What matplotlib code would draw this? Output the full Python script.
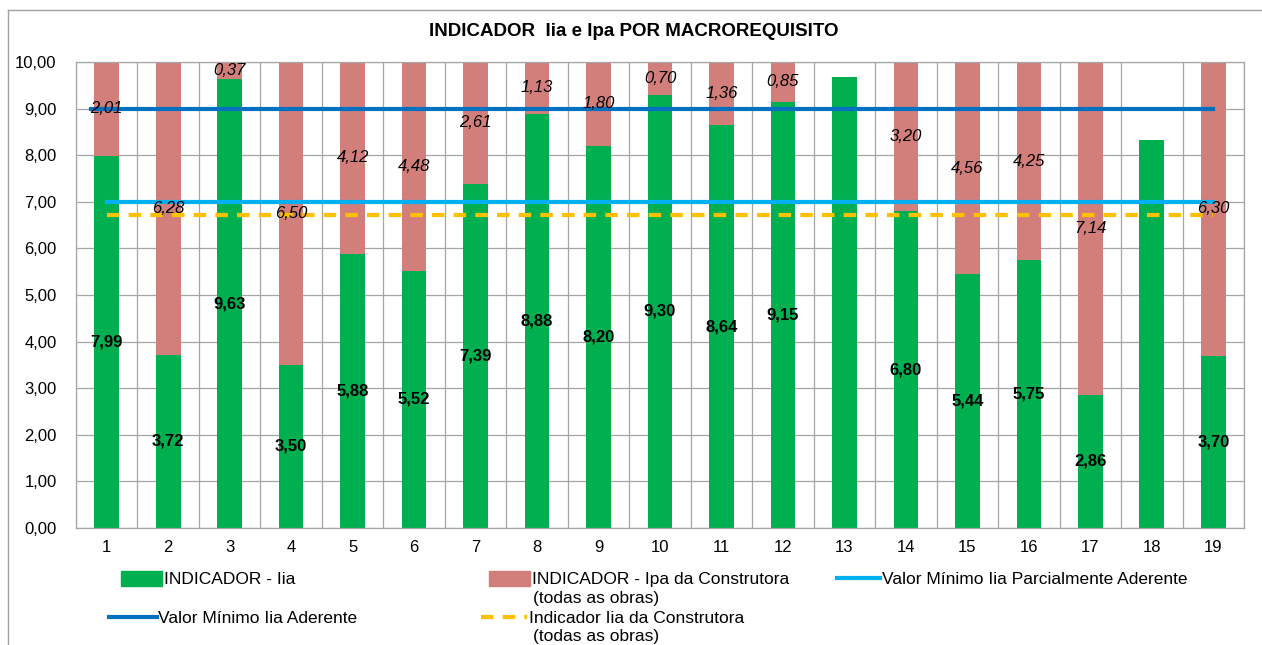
import matplotlib
matplotlib.use("Agg")
import matplotlib.pyplot as plt
from matplotlib.patches import Patch
from matplotlib.lines import Line2D
import numpy as np

plt.rcParams['font.family'] = ['Liberation Sans', 'DejaVu Sans']

categories = [str(i) for i in range(1, 20)]
iia = [7.99, 3.72, 9.63, 3.50, 5.88, 5.52, 7.39, 8.88, 8.20, 9.30,
       8.64, 9.15, 9.68, 6.80, 5.44, 5.75, 2.86, 8.33, 3.70]
ipa = [2.01, 6.28, 0.37, 6.50, 4.12, 4.48, 2.61, 1.13, 1.80, 0.70,
       1.36, 0.85, 0.0, 3.20, 4.56, 4.25, 7.14, 0.0, 6.30]
# bars 13 and 18 carry no data labels in the original
show_label = [True] * 12 + [False] + [True] * 4 + [False] + [True]
min_parcial = 7.0
min_aderente = 9.0
iia_construtora = 6.72

GREEN = "#00B050"
RED = "#D27E7B"
DARK_BLUE = "#0070C0"
LIGHT_BLUE = "#00B0F0"
YELLOW = "#FFC000"

fig = plt.figure(figsize=(12.62, 6.45), dpi=100)
ax = fig.add_axes([76 / 1262, 1 - 528 / 645, (1244 - 76) / 1262, (528 - 62) / 645])

x = np.arange(1, len(categories) + 1)
ax.bar(x, iia, width=0.4, color=GREEN, zorder=2)
ax.bar(x, ipa, width=0.4, bottom=iia, color=RED, zorder=2)

ax.plot([x[0], x[-1]], [min_parcial] * 2, color=LIGHT_BLUE, lw=3, zorder=3)
ax.plot([x[0] - 0.25, x[-1]], [min_aderente] * 2, color=DARK_BLUE, lw=3, zorder=3)
ax.plot([x[0], x[-1]], [iia_construtora] * 2, color=YELLOW, lw=3,
        dashes=(3, 2.2), zorder=3)

for xi, g, r, ok in zip(x, iia, ipa, show_label):
    if not ok:
        continue
    ax.text(xi, g / 2, f"{g:.2f}".replace(".", ","), ha="center", va="center",
            fontsize=12, fontweight="bold", zorder=4)
    ax.text(xi, g + r / 2, f"{r:.2f}".replace(".", ","), ha="center", va="center",
            fontsize=12, fontstyle="italic", zorder=4)

ax.set_xlim(0.5, len(categories) + 0.5)
ax.set_ylim(0, 10)
ax.set_yticks(np.arange(0, 11, 1))
ax.set_yticklabels([f"{v:.2f}".replace(".", ",") for v in np.arange(0, 11, 1)])
ax.set_xticks(x)
ax.set_xticklabels(categories)
ax.set_xticks(np.arange(0.5, len(categories) + 1, 1), minor=True)
ax.grid(axis="y", which="major", color="#A6A6A6", lw=0.9, zorder=0)
ax.grid(axis="x", which="minor", color="#A6A6A6", lw=0.9, zorder=0)
ax.tick_params(axis="both", which="both", length=0, labelsize=12)
ax.tick_params(axis="x", pad=9)
ax.tick_params(axis="y", pad=14)
for s in ax.spines.values():
    s.set_color("#A6A6A6")
    s.set_linewidth(0.9)

fig.text(634 / 1262, 1 - 32 / 645, "INDICADOR  Iia e Ipa POR MACROREQUISITO",
         ha="center", va="center", fontsize=13.5, fontweight="bold")

# outer chart frame (only top and left visible in the crop)
fig.add_artist(Line2D([8 / 1262, 1], [1 - 10 / 645] * 2, color="#A0A0A0", lw=1))
fig.add_artist(Line2D([8 / 1262] * 2, [0, 1 - 10 / 645], color="#A0A0A0", lw=1))

# legend, one entry at a time so rows line up like Excel
entries = [
    (Patch(color=GREEN), "INDICADOR - Iia", 121, 579, 2.35),
    (Patch(color=RED), "INDICADOR - Ipa da Construtora", 489, 579, 2.35),
    (Line2D([], [], color=LIGHT_BLUE, lw=3), "Valor Mínimo Iia Parcialmente Aderente", 837, 579, 2.5),
    (Line2D([], [], color=DARK_BLUE, lw=3), "Valor Mínimo Iia Aderente", 109, 618, 2.75),
    (Line2D([], [], color=YELLOW, lw=3, dashes=(3, 2.2)), "Indicador Iia da Construtora", 481, 618, 2.65),
]
for h, lab, px, py, hl in entries:
    fig.legend([h], [lab], loc="center left", bbox_to_anchor=(px / 1262, 1 - py / 645),
               frameon=False, fontsize=12.5, handlelength=hl, handleheight=1.0,
               handletextpad=0.1, borderpad=0, borderaxespad=0)
for py in (599, 637):
    fig.text(533 / 1262, 1 - py / 645, "(todas as obras)", ha="left", va="center",
             fontsize=12.5)

fig.savefig("out.png", dpi=100)
